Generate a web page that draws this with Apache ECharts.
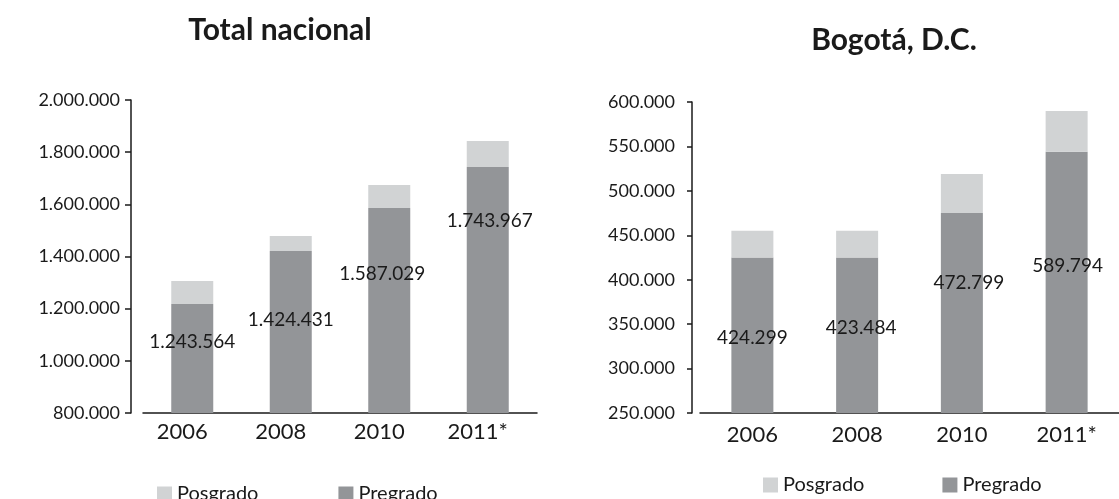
<!DOCTYPE html>
<html>
<head>
<meta charset="utf-8">
<script src="https://cdn.jsdelivr.net/npm/echarts@6/dist/echarts.min.js"></script>
<style>
html,body{margin:0;padding:0;background:#fff;}
#c{width:1119px;height:499px;}
</style>
</head>
<body>
<div id="c"></div>
<script>
const categories = ['2006', '2008', '2010', '2011*'];
const natPregrado = [1218000, 1421000, 1586000, 1743000];
const natPosgrado = [88000, 58000, 88000, 100000];
const natLabels = ['1.243.564', '1.424.431', '1.587.029', '1.743.967'];
const bogPregrado = [425000, 425000, 475000, 544000];
const bogPosgrado = [30000, 30000, 44000, 46000];
const bogLabels = ['424.299', '423.484', '472.799', '589.794'];
const titles = ['Total nacional', 'Bogotá, D.C.'];
const legendNames = ['Posgrado', 'Pregrado'];

const FONT = 'Lato';
const INK = '#1a1a1a';
const C_PRE = '#939598';
const C_POS = '#d1d3d4';

function fmt(v) {
  return String(Math.round(v)).replace(/\B(?=(\d{3})+(?!\d))/g, '.');
}

// label placement (style only): offsets below the top of the pregrado bar
const natLabelOffsets = [[0, 28], [0, 59], [-7, 56], [2, 44]];
const bogLabelOffsets = [[0, 71], [4, 61], [7, 60], [1, 105]];

function preData(vals, labels, offs) {
  return vals.map((v, i) => ({
    value: v,
    label: { show: true, formatter: labels[i], offset: offs[i] }
  }));
}

const axisLineStyle = { color: INK, width: 1.5 };

const chart = echarts.init(document.getElementById('c'));
chart.setOption({
  animation: false,
  textStyle: { fontFamily: FONT },
  graphic: [
    { type: 'text', x: 280, y: 30, style: { text: titles[0], font: 'bold 30px Lato', fill: INK, align: 'center', verticalAlign: 'middle' } },
    { type: 'text', x: 894, y: 40, style: { text: titles[1], font: 'bold 30px Lato', fill: INK, align: 'center', verticalAlign: 'middle' } }
  ],
  legend: [
    { data: legendNames, left: 157, top: 484, padding: 0, itemWidth: 15, itemHeight: 15, itemGap: 80, icon: 'rect',
      textStyle: { fontFamily: FONT, fontSize: 20, color: INK } },
    { data: legendNames, left: 763, top: 475, padding: 0, itemWidth: 15, itemHeight: 15, itemGap: 78, icon: 'rect',
      textStyle: { fontFamily: FONT, fontSize: 20, color: INK } }
  ],
  grid: [
    { left: 143, top: 100, width: 394, height: 313 },
    { left: 700, top: 102, width: 434, height: 311 }
  ],
  xAxis: [
    { type: 'category', gridIndex: 0, data: categories,
      axisLine: { lineStyle: axisLineStyle }, axisTick: { show: false },
      axisLabel: { color: INK, fontFamily: FONT, fontSize: 22, margin: 8, padding: [0, 20, 0, 0] } },
    { type: 'category', gridIndex: 1, data: categories,
      axisLine: { lineStyle: axisLineStyle }, axisTick: { show: false },
      axisLabel: { color: INK, fontFamily: FONT, fontSize: 22, margin: 11 } }
  ],
  yAxis: [
    { type: 'value', gridIndex: 0, min: 800000, max: 2000000, interval: 200000, offset: 12,
      axisLine: { show: true, lineStyle: axisLineStyle },
      axisTick: { show: true, length: 6, lineStyle: axisLineStyle },
      splitLine: { show: false },
      axisLabel: { color: INK, fontFamily: FONT, fontSize: 18, margin: 11, formatter: fmt } },
    { type: 'value', gridIndex: 1, min: 250000, max: 600000, interval: 50000, offset: 8,
      axisLine: { show: true, lineStyle: axisLineStyle },
      axisTick: { show: true, length: 5, lineStyle: axisLineStyle },
      splitLine: { show: false },
      axisLabel: { color: INK, fontFamily: FONT, fontSize: 18, margin: 17, formatter: fmt } }
  ],
  series: [
    { name: 'Pregrado', type: 'bar', xAxisIndex: 0, yAxisIndex: 0, stack: 'nat', barWidth: 42,
      itemStyle: { color: C_PRE },
      label: { show: true, position: 'insideTop', distance: 0, color: INK, fontFamily: FONT, fontSize: 19 },
      data: preData(natPregrado, natLabels, natLabelOffsets) },
    { name: 'Posgrado', type: 'bar', xAxisIndex: 0, yAxisIndex: 0, stack: 'nat', barWidth: 42,
      itemStyle: { color: C_POS }, data: natPosgrado },
    { name: 'Pregrado', type: 'bar', xAxisIndex: 1, yAxisIndex: 1, stack: 'bog', barWidth: 42,
      itemStyle: { color: C_PRE },
      label: { show: true, position: 'insideTop', distance: 0, color: INK, fontFamily: FONT, fontSize: 19 },
      data: preData(bogPregrado, bogLabels, bogLabelOffsets) },
    { name: 'Posgrado', type: 'bar', xAxisIndex: 1, yAxisIndex: 1, stack: 'bog', barWidth: 42,
      itemStyle: { color: C_POS }, data: bogPosgrado }
  ]
});
</script>
</body>
</html>
